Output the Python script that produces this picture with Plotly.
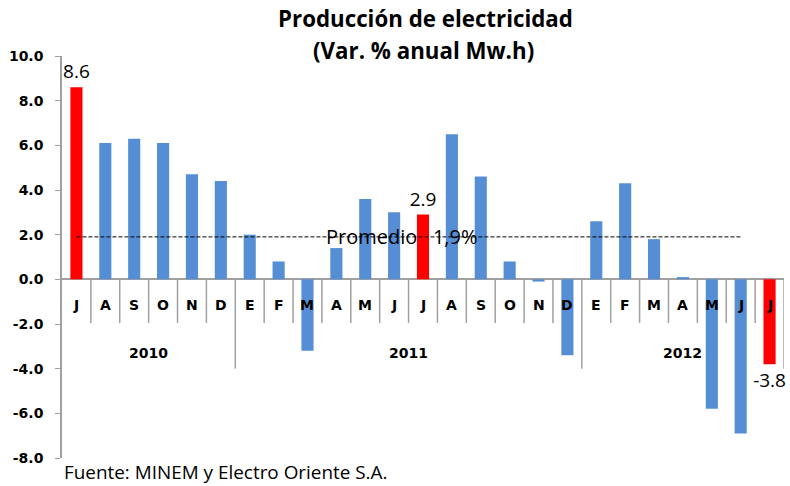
import plotly.graph_objects as go

months = ["J", "A", "S", "O", "N", "D",
          "E", "F", "M", "A", "M", "J", "J", "A", "S", "O", "N", "D",
          "E", "F", "M", "A", "M", "J", "J"]
values = [8.6, 6.1, 6.3, 6.1, 4.7, 4.4,
          2.0, 0.8, -3.2, 1.4, 3.6, 3.0, 2.9, 6.5, 4.6, 0.8, -0.1, -3.4,
          2.6, 4.3, 1.8, 0.1, -5.8, -6.9, -3.8]
highlight = [0, 12, 24]
years = ["2010", "2011", "2012"]
year_start = [0, 6, 18]
year_end = [5, 17, 24]
average = 1.9
avg_label = "Promedio\u00a0\u00a0\u00a01,9%"
y_ticks = [10, 8, 6, 4, 2, 0, -2, -4, -6, -8]

BLUE = "#568ED6"
RED = "#FF0000"
GRID = "#A0A0A0"
FONT = "Open Sans"
BFONT = "DejaVu Sans"

x = list(range(len(values)))
colors = [RED if i in highlight else BLUE for i in x]
texts = [f"{values[i]:.1f}" if i in highlight else "" for i in x]

fig = go.Figure()
fig.add_trace(go.Bar(
    x=x, y=values, marker=dict(color=colors, line=dict(width=0)),
    width=0.42, text=texts, textposition="outside", constraintext="none",
    textfont=dict(family=FONT, size=19, color="black"),
    cliponaxis=False, hoverinfo="skip", showlegend=False,
))
fig.add_trace(go.Scatter(
    x=[0, 23], y=[average, average], mode="lines",
    line=dict(color="black", width=1, dash="4px,2px"),
    hoverinfo="skip", showlegend=False,
))

shapes = []
for i in range(1, len(values) + 1):
    boundary = (i in year_start) or i == len(values)
    shapes.append(dict(type="line", xref="x", yref="y",
                       x0=i - 0.5, x1=i - 0.5, y0=0,
                       y1=-4.0 if boundary else -1.95,
                       line=dict(color=GRID, width=1.5), layer="below"))

annotations = []
for i, m in enumerate(months):
    annotations.append(dict(x=i, y=-1.15, xref="x", yref="y", text=f"<b>{m}</b>",
                            showarrow=False, font=dict(family=BFONT, size=14, color="black")))
for yr, s, e in zip(years, year_start, year_end):
    annotations.append(dict(x=(s + e) / 2, y=-3.3, xref="x", yref="y", text=f"<b>{yr}</b>",
                            showarrow=False, font=dict(family=BFONT, size=14, color="black")))
annotations.append(dict(x=11.25, y=average, xref="x", yref="y", text=avg_label,
                        showarrow=False, font=dict(family=FONT, size=20, color="black")))
annotations.append(dict(x=0, y=-0.035, xref="paper", yref="paper", xanchor="left", yanchor="middle",
                        text="Fuente: MINEM y Electro Oriente S.A.", showarrow=False,
                        font=dict(family=FONT, size=18.9, color="black")))
annotations.append(dict(x=0.503, y=1.0945, xref="paper", yref="paper", xanchor="center",
                        yanchor="middle", text="<b>Producción de electricidad</b>", showarrow=False,
                        font=dict(family=FONT, size=22.3, color="black")))
annotations.append(dict(x=0.5, y=1.0149, xref="paper", yref="paper", xanchor="center",
                        yanchor="middle", text="<b>(Var. % anual Mw.h)</b>", showarrow=False,
                        font=dict(family=FONT, size=22.3, color="black")))

fig.update_layout(
    width=790, height=486,
    margin=dict(l=62, r=6, t=56, b=28),
    paper_bgcolor="white", plot_bgcolor="white",
    xaxis=dict(range=[-0.5, len(values) - 0.5], showticklabels=False, showgrid=False,
               zeroline=False, showline=False, ticks="", automargin=False),
    yaxis=dict(range=[-8, 10], tickvals=y_ticks, ticktext=[f"<b>{v:.1f}</b>" for v in y_ticks],
               showgrid=False, zeroline=True, zerolinecolor=GRID, zerolinewidth=1.5,
               showline=True, linecolor=GRID, linewidth=1.5, ticks="outside", ticklen=5,
               tickcolor=GRID, tickfont=dict(family=BFONT, size=14, color="black"),
               ticklabelstandoff=9, automargin=False),
    shapes=shapes, annotations=annotations, bargap=0.5,
)
fig.write_html("out.html", config={"displayModeBar": False},
               post_script="document.body.style.margin='0';document.body.style.padding='0';")
